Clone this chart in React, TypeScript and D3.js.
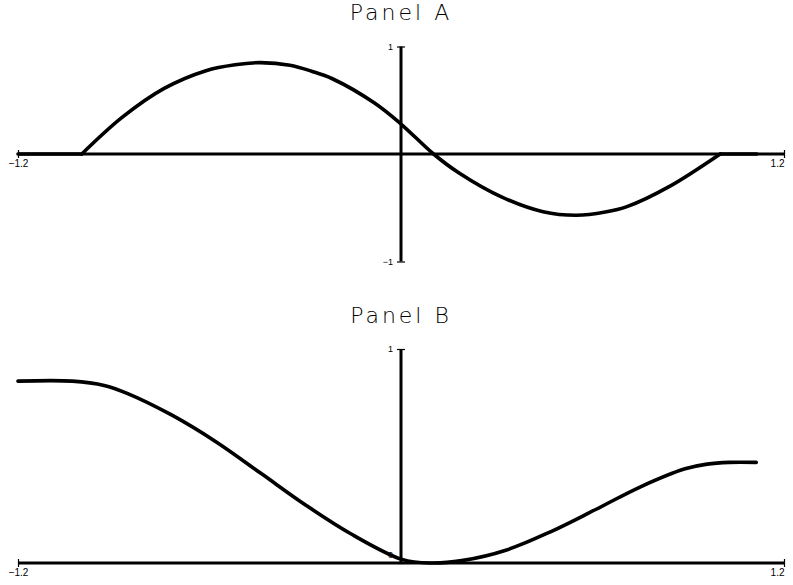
import React, { useEffect, useRef } from 'react';
import * as d3 from 'd3';

// Panel A curve
const panelAX = [-1.2, -1.0, -0.874, -0.742, -0.611, -0.52, -0.44, -0.348, -0.28, -0.215, -0.083, 0.0, 0.102, 0.182, 0.313, 0.445, 0.55, 0.64, 0.708, 0.84, 1.0, 1.115];
const panelAY = [0, 0, 0.34, 0.61, 0.775, 0.83, 0.85, 0.826, 0.77, 0.70, 0.474, 0.279, 0, -0.177, -0.397, -0.537, -0.57, -0.54, -0.49, -0.304, 0, 0];

// Panel B curve
const panelBX = [-1.2, -1.03, -0.93, -0.858, -0.719, -0.58, -0.439, -0.299, -0.16, 0.003, 0.092, 0.19, 0.331, 0.47, 0.61, 0.749, 0.89, 0.959, 1.029, 1.113];
const panelBY = [0.85, 0.85, 0.83, 0.793, 0.692, 0.567, 0.419, 0.271, 0.139, 0.017, 0.0, 0.011, 0.061, 0.147, 0.25, 0.355, 0.44, 0.462, 0.47, 0.47];

const xTicks = [-1.2, 1.2];
const yTicksA = [-1, 1];
const yTicksB = [0, 1];
const titles = ['Panel A', 'Panel B'];

const fmt = (v: number) => (v < 0 ? '\u2212' + Math.abs(v) : String(v));

const App = () => {
  const svgRef = useRef<SVGSVGElement | null>(null);

  useEffect(() => {
    const svg = d3.select(svgRef.current);
    svg.selectAll('*').remove();

    const x = d3.scaleLinear().domain([-1.2, 1.2]).range([18, 784]);

    const panels = [
      // panel A has sharp corners where the wave meets the flat parts
      { xs: panelAX, ys: panelAY, y: d3.scaleLinear().domain([-1, 1]).range([261.5, 46.5]), ticks: yTicksA, title: titles[0], titleY: 12, split: true },
      { xs: panelBX, ys: panelBY, y: d3.scaleLinear().domain([0, 1]).range([563, 349]), ticks: yTicksB, title: titles[1], titleY: 315, split: false }
    ];

    panels.forEach(p => {
      const g = svg.append('g');

      g.append('text')
        .attr('x', 401)
        .attr('y', p.titleY)
        .attr('text-anchor', 'middle')
        .attr('dominant-baseline', 'central')
        .attr('font-family', 'DejaVu Sans, sans-serif')
        .attr('font-weight', 200)
        .attr('font-size', 22)
        .attr('letter-spacing', 3)
        .attr('fill', '#000')
        .text(p.title);

      // x axis through y = 0
      const y0 = p.y(0);
      const xAxis = g.append('g')
        .attr('transform', `translate(0,${y0})`)
        .call(d3.axisBottom(x).tickValues(xTicks).tickSize(4).tickFormat(d => fmt(+d)));
      xAxis.select('.domain').attr('stroke', '#000').attr('stroke-width', 3.2).attr('d', `M${x(-1.2)},0H${x(1.2)}`);
      xAxis.selectAll('.tick line').attr('y1', -4).attr('stroke-width', 1.2);
      xAxis.selectAll('.tick text')
        .attr('y', 6)
        .attr('font-family', 'Liberation Sans, sans-serif')
        .attr('font-size', 10)
        .attr('fill', '#000');
      xAxis.selectAll<SVGTextElement, number>('.tick text').filter(d => d > 0).attr('text-anchor', 'end');

      // y axis through x = 0
      const yAxis = g.append('g')
        .attr('transform', `translate(${x(0)},0)`)
        .call(d3.axisLeft(p.y).tickValues(p.ticks).tickSize(4).tickPadding(4).tickFormat(d => fmt(+d)));
      yAxis.select('.domain').attr('stroke', '#000').attr('stroke-width', 3).attr('d', `M0,${p.y.range()[0]}V${p.y.range()[1]}`);
      yAxis.selectAll('.tick line').attr('x2', 4).attr('x1', -4).attr('stroke-width', 1.2);
      yAxis.selectAll('.tick text')
        .attr('font-family', 'Liberation Sans, sans-serif')
        .attr('font-size', 9)
        .attr('fill', '#000');
      yAxis.selectAll<SVGTextElement, number>('.tick text').filter(d => d === 0).attr('dy', '-0.6em');

      const pts = p.xs.map((v, i) => [v, p.ys[i]] as [number, number]);
      const smooth = d3.line<[number, number]>()
        .x(d => x(d[0]))
        .y(d => p.y(d[1]))
        .curve(d3.curveCatmullRom.alpha(0.5));
      const straight = d3.line<[number, number]>()
        .x(d => x(d[0]))
        .y(d => p.y(d[1]));

      const n = pts.length;
      const pieces = p.split
        ? [
            { d: pts.slice(0, 2), fn: straight },
            { d: pts.slice(1, n - 1), fn: smooth },
            { d: pts.slice(n - 2), fn: straight }
          ]
        : [{ d: pts, fn: smooth }];

      pieces.forEach(piece => {
        g.append('path')
          .datum(piece.d)
          .attr('fill', 'none')
          .attr('stroke', '#000')
          .attr('stroke-width', 3.6)
          .attr('stroke-linecap', 'round')
          .attr('stroke-linejoin', 'round')
          .attr('d', piece.fn);
      });
    });
  }, []);

  return (
    <svg
      ref={svgRef}
      width={793}
      height={585}
      style={{ position: 'absolute', left: 0, top: 0, background: '#fff' }}
    />
  );
};

export default App;
